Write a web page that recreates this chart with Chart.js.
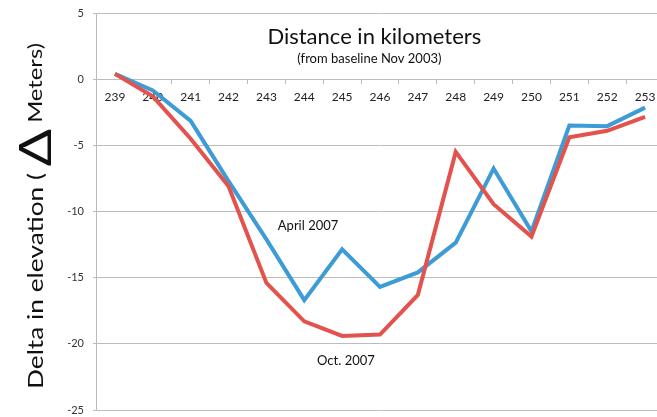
<!DOCTYPE html>
<html lang="en">
<head>
    <meta charset="UTF-8">
    <title>Delta in elevation</title>
    <script src="https://cdn.jsdelivr.net/npm/chart.js"></script>
    <style>
        html, body { margin: 0; padding: 0; background: #fff; overflow: hidden; }
        .chart-container { width: 664px; height: 417px; position: relative; }
    </style>
</head>
<body>
    <div class="chart-container"><canvas id="elevation-chart"></canvas></div>

    <script>
        // distance markers (km)
        const distances = ['239', '240', '241', '242', '243', '244', '245', '246', '247', '248', '249', '250', '251', '252', '253'];
        // elevation change vs. Nov 2003 baseline (m)
        const april2007 = [0.4, -0.85, -3.15, -7.7, -12.1, -16.7, -12.85, -15.7, -14.6, -12.35, -6.75, -11.5, -3.5, -3.55, -2.15];
        const oct2007 = [0.4, -1.3, -4.5, -8.1, -15.4, -18.3, -19.4, -19.3, -16.3, -5.5, -9.45, -11.9, -4.4, -3.9, -2.85];
        const seriesNames = ['April 2007', 'Oct. 2007'];
        const yTicks = [5, 0, -5, -10, -15, -20, -25];

        const gridColor = '#bcbcbc';
        const fontFamily = 'Lato, "Open Sans", sans-serif';

        // title, series labels and the axis title are drawn inside the plot like the original
        const textPlugin = {
            id: 'chartText',
            afterDraw(chart) {
                const ctx = chart.ctx;
                const x = chart.scales.x;
                const y = chart.scales.y;
                ctx.save();
                ctx.fillStyle = '#111';
                ctx.textAlign = 'center';
                ctx.textBaseline = 'alphabetic';

                ctx.font = '22px ' + fontFamily;
                ctx.fillText('Distance in kilometers', x.getPixelForValue(6.85), y.getPixelForValue(2.65));
                ctx.font = '13px ' + fontFamily;
                ctx.fillText('(from baseline Nov 2003)', x.getPixelForValue(6.72), y.getPixelForValue(1.2));

                ctx.textBaseline = 'middle';
                ctx.font = '13px ' + fontFamily;
                ctx.fillText(seriesNames[0], x.getPixelForValue(5.1), y.getPixelForValue(-11.05));
                ctx.fillText(seriesNames[1], x.getPixelForValue(6.1), y.getPixelForValue(-21.3));

                // y axis title with a big delta, stretched along its length like the source
                const parts = [
                    { text: 'Delta in elevation ( ', size: 21 },
                    { text: '\u0394', size: 44 },
                    { text: ' Meters)', size: 19 }
                ];
                let total = 0;
                parts.forEach(p => {
                    ctx.font = p.size + 'px ' + fontFamily;
                    p.w = ctx.measureText(p.text).width;
                    total += p.w;
                });
                const span = 346;
                ctx.translate(36, 216);
                ctx.rotate(-Math.PI / 2);
                ctx.scale(span / total, 1);
                ctx.textAlign = 'left';
                ctx.textBaseline = 'middle';
                let pos = -total / 2;
                parts.forEach(p => {
                    ctx.font = p.size + 'px ' + fontFamily;
                    ctx.fillText(p.text, pos, p.size > 30 ? 1 : 0);
                    pos += p.w;
                });
                ctx.restore();
            }
        };

        new Chart(document.getElementById('elevation-chart'), {
            type: 'line',
            data: {
                labels: distances,
                datasets: [
                    { label: seriesNames[1], data: oct2007, borderColor: '#e4524d', backgroundColor: '#e4524d', order: 1 },
                    { label: seriesNames[0], data: april2007, borderColor: '#3d9bd6', backgroundColor: '#3d9bd6', order: 2 }
                ]
            },
            options: {
                responsive: true,
                maintainAspectRatio: false,
                animation: false,
                elements: {
                    line: { borderWidth: 4, tension: 0, borderJoinStyle: 'miter' },
                    point: { radius: 0, hoverRadius: 0 }
                },
                layout: { padding: { top: 13, bottom: 7, left: 0, right: 0 } },
                plugins: {
                    legend: { display: false },
                    tooltip: { enabled: false }
                },
                scales: {
                    x: {
                        position: { y: 0 },
                        offset: true,
                        afterFit(scale) { scale.height = 0; },
                        grid: { drawOnChartArea: false, offset: true, color: gridColor, tickLength: 4 },
                        border: { color: gridColor },
                        ticks: { color: '#222', font: { family: fontFamily, size: 12 }, padding: 7, maxRotation: 0 }
                    },
                    y: {
                        min: -25,
                        max: 5,
                        afterBuildTicks(scale) {
                            scale.ticks = yTicks.map(v => ({ value: v }));
                        },
                        afterFit(scale) {
                            scale.width = 96;
                            scale.paddingTop = 0;
                            scale.paddingBottom = 0;
                        },
                        grid: { color: gridColor, tickLength: 3 },
                        border: { color: gridColor },
                        ticks: { color: '#333', font: { family: fontFamily, size: 11 }, padding: 9 }
                    }
                }
            },
            plugins: [textPlugin]
        });
    </script>
</body>
</html>
